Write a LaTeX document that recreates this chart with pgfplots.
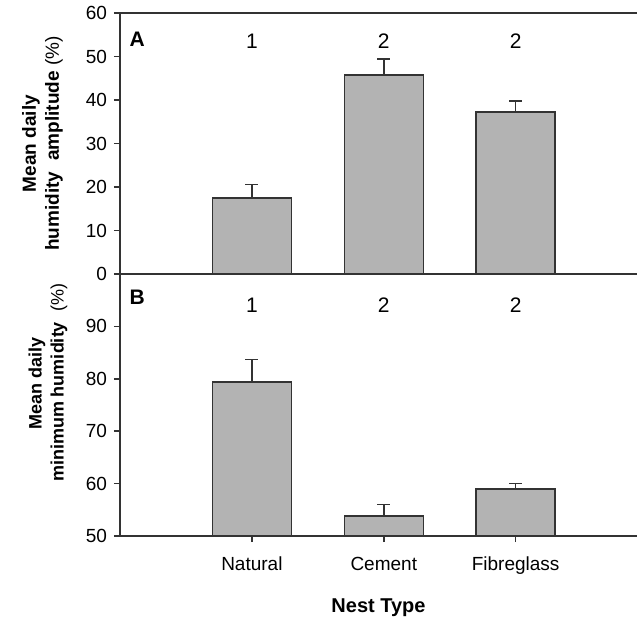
\documentclass[border=0pt]{standalone}
\usepackage{fontspec}
\setmainfont{Liberation Sans}
\usepackage{pgfplots}
\pgfplotsset{compat=1.18}
\definecolor{barfill}{HTML}{B3B3B3}
\definecolor{edge}{HTML}{333333}

\pgfplotsset{
  nestpanel/.style={
    scale only axis,
    width=258.5pt,
    xmin=-1, xmax=2.92,
    axis x line*=box, axis y line*=left,
    axis line style={edge, line width=0.75pt},
    tick style={edge, line width=0.75pt},
    major tick length=3pt,
    tick align=outside,
    ytick pos=left,
    font=\fontsize{9.5}{11}\selectfont,
    /pgf/number format/assume math mode=true,
    ybar, bar width=39.5pt,
    ylabel style={align=center, font=\fontsize{9.5}{11.5}\selectfont,
                  anchor=south},
  },
  nestbars/.style={
    fill=barfill, draw=edge, line width=0.75pt,
    error bars/.cd, y dir=plus, y explicit,
    error bar style={edge, line width=0.75pt},
    error mark options={edge, line width=0.75pt, mark size=3.3pt, rotate=90},
  },
}

\begin{document}
\begin{tikzpicture}
% panel B: mean daily minimum humidity
\begin{axis}[nestpanel, name=bot,
  at={(0,0)}, anchor=south west,
  height=131pt,
  ymin=50, ymax=100, ytick={50,60,70,80,90},
  xtick={0,1,2}, xticklabels={Natural,Cement,Fibreglass},
  xtick pos=bottom,
  xticklabel style={yshift=-4pt},
  xlabel={\textbf{Nest Type}},
  xlabel style={font=\fontsize{10}{12}\selectfont, yshift=-5pt},
  ylabel={\textbf{Mean daily}\\\textbf{minimum humidity}\ \ (\%)},
  every axis y label/.append style={at={(rel axis cs:-0.088,0.584)},
                                    font=\fontsize{9}{11}\selectfont},
]
\addplot[nestbars] coordinates {
  (0,79.4) +- (0,4.3)
  (1,53.8) +- (0,2.2)
  (2,59.0) +- (0,1.0)};
\node[font=\fontsize{10.5}{12}\selectfont] at (axis cs:0,94) {1};
\node[font=\fontsize{10.5}{12}\selectfont] at (axis cs:1,94) {2};
\node[font=\fontsize{10.5}{12}\selectfont] at (axis cs:2,94) {2};
\node[font=\fontsize{10.5}{12}\selectfont\bfseries, anchor=north west]
  at (rel axis cs:0.005,0.965) {B};
\end{axis}

% panel A: mean daily humidity amplitude
\begin{axis}[nestpanel, name=top,
  at={(0,131pt)}, anchor=south west,
  height=130.5pt,
  ymin=0, ymax=60, ytick={0,10,20,30,40,50,60},
  xtick=\empty,
  ylabel={\textbf{Mean daily}\\\textbf{humidity \ amplitude} (\%)},
  every axis y label/.append style={at={(rel axis cs:-0.097,0.5)}},
]
\addplot[nestbars] coordinates {
  (0,17.5) +- (0,3.1)
  (1,45.7) +- (0,3.7)
  (2,37.2) +- (0,2.6)};
\node[font=\fontsize{10.5}{12}\selectfont] at (axis cs:0,53.6) {1};
\node[font=\fontsize{10.5}{12}\selectfont] at (axis cs:1,53.6) {2};
\node[font=\fontsize{10.5}{12}\selectfont] at (axis cs:2,53.6) {2};
\node[font=\fontsize{10.5}{12}\selectfont\bfseries, anchor=north west]
  at (rel axis cs:0.005,0.955) {A};
\end{axis}

\pgfresetboundingbox
\path (-60pt,-42.5pt) rectangle (258.5pt,268pt);
\end{tikzpicture}
\end{document}
